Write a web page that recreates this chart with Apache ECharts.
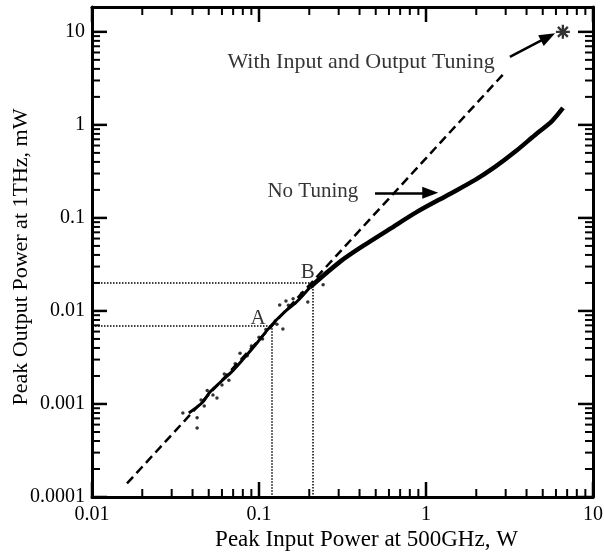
<!DOCTYPE html>
<html>
<head>
<meta charset="utf-8">
<script src="https://cdn.jsdelivr.net/npm/echarts@6.0.0/dist/echarts.min.js"></script>
<style>
  html, body { margin: 0; padding: 0; background: #fff; }
  #wrap { position: relative; width: 604px; height: 556px; }
  #chart, #ticks { position: absolute; left: 0; top: 0; width: 604px; height: 556px; }
  #ticks { pointer-events: none; }
</style>
</head>
<body>
<div id="wrap">
  <div id="chart"></div>
  <div id="ticks"></div>
</div>
<script>
// 刻度
var xMajor = [0.01, 0.1, 1, 10];
var xMajorLabels = ['0.01', '0.1', '1', '10'];
var xMinor = [0.02, 0.03, 0.04, 0.05, 0.06, 0.07, 0.08, 0.09,
              0.2, 0.3, 0.4, 0.5, 0.6, 0.7, 0.8, 0.9,
              2, 3, 4, 5, 6, 7, 8, 9];
var yMajor = [0.0001, 0.001, 0.01, 0.1, 1, 10];
var yMajorLabels = ['0.0001', '0.001', '0.01', '0.1', '1', '10'];
var yMinor = [0.0002, 0.0003, 0.0004, 0.0005, 0.0006, 0.0007, 0.0008, 0.0009,
              0.002, 0.003, 0.004, 0.005, 0.006, 0.007, 0.008, 0.009,
              0.02, 0.03, 0.04, 0.05, 0.06, 0.07, 0.08, 0.09,
              0.2, 0.3, 0.4, 0.5, 0.6, 0.7, 0.8, 0.9,
              2, 3, 4, 5, 6, 7, 8, 9];

// No Tuning 曲线（下段较细，上段较粗）
var noTuneLowX = [0.038, 0.0456, 0.051, 0.058, 0.070, 0.080, 0.097, 0.116, 0.14, 0.17, 0.202];
var noTuneLowY = [0.00080, 0.00103, 0.00135, 0.00168, 0.0023, 0.0030, 0.0045, 0.0067, 0.0095, 0.0128, 0.0180];
var noTuneHighX = [0.202, 0.305, 0.42, 0.608, 0.883, 1.39, 1.97, 2.59, 3.41, 4.50, 5.68, 6.61];
var noTuneHighY = [0.0180, 0.0337, 0.050, 0.0762, 0.116, 0.181, 0.256, 0.353, 0.513, 0.780, 1.10, 1.52];
// 散点
var dotX = [0.035, 0.0426, 0.0426, 0.045, 0.047, 0.049, 0.053, 0.056, 0.06, 0.062, 0.066, 0.072, 0.077,
            0.085, 0.09, 0.1, 0.105, 0.11, 0.125, 0.128, 0.133, 0.139, 0.145, 0.15, 0.16, 0.164,
            0.18, 0.196, 0.242];
var dotY = [0.0008, 0.00071, 0.00055, 0.0011, 0.00095, 0.0014, 0.00125, 0.00116, 0.0016, 0.0021, 0.0018, 0.0027, 0.0035,
            0.0033, 0.0042, 0.0052, 0.0050, 0.0063, 0.0078, 0.0072, 0.0116, 0.0064, 0.0128, 0.0115, 0.0135, 0.0121,
            0.0155, 0.0125, 0.0191];
// With Input and Output Tuning 虚线
var tunedX = [0.0162, 2.9];
var tunedY = [0.00014, 3.5];
var starX = [6.6];
var starY = [10];
// A、B 点
var pointA = [0.12, 0.007];
var pointB = [0.21, 0.02];

var xMin = 0.01, xMax = 10, yMin = 0.0001, yMax = 18.5;
var gridBox = { left: 92, right: 11, top: 7, bottom: 59, outerBoundsMode: 'none' };

function pairs(xs, ys) {
    return xs.map(function (x, i) { return [x, ys[i]]; });
}

var serif = 'Liberation Serif';

// 只给整十倍数标数字，其余（如轴端点）留空
function labelFor(values, labels) {
    return function (v) {
        for (var i = 0; i < values.length; i++) {
            if (Math.abs(Math.log10(values[i]) - Math.log10(v)) < 0.02) return labels[i];
        }
        return '';
    };
}

function makeAxis(position, min, max, labels, name) {
    var axis = {
        type: 'log',
        logBase: 10,
        position: position,
        min: min,
        max: max,
        axisLine: { show: true, onZero: false, lineStyle: { color: '#000', width: 3 } },
        axisTick: { show: false },
        minorTick: { show: false },
        splitLine: { show: false },
        axisLabel: labels ? {
            show: true,
            formatter: labelFor(labels.values, labels.text),
            fontFamily: serif,
            fontSize: 20,
            color: '#000',
            margin: position === 'bottom' ? 8 : 7
        } : { show: false }
    };
    if (name) {
        axis.name = name.text;
        axis.nameLocation = 'middle';
        axis.nameGap = name.gap;
        axis.nameMoveOverlap = false;
        axis.nameTextStyle = { fontFamily: serif, fontSize: name.size, color: '#000', padding: name.padding };
    }
    return axis;
}

// 主图
var chart = echarts.init(document.getElementById('chart'));

var guideStyle = { type: 'dotted', color: '#000', width: 1.5 };
var arrowStyle = { type: 'solid', color: '#000', width: 2.5 };

var option = {
    animation: false,
    backgroundColor: '#fff',
    grid: gridBox,
    xAxis: [
        makeAxis('bottom', xMin, xMax, { values: xMajor, text: xMajorLabels },
                 { text: 'Peak Input Power at 500GHz, W', gap: 31, size: 23, padding: [0, 0, 0, 48] }),
        makeAxis('top', xMin, xMax)
    ],
    yAxis: [
        makeAxis('left', yMin, yMax, { values: yMajor, text: yMajorLabels },
                 { text: 'Peak Output Power at 1THz, mW', gap: 60, size: 22, padding: [0, 10, 0, 0] }),
        makeAxis('right', yMin, yMax)
    ],
    series: [
        {
            name: 'With Input and Output Tuning',
            type: 'line',
            data: pairs(tunedX, tunedY),
            symbol: 'none',
            lineStyle: { color: '#000', width: 2.5, type: [9, 5] },
            z: 3,
            markLine: {
                silent: true,
                symbol: ['none', 'none'],
                label: { show: false },
                data: [
                    [{ coord: [xMin, pointA[1]], lineStyle: guideStyle }, { coord: pointA }],
                    [{ coord: pointA, lineStyle: guideStyle }, { coord: [pointA[0], yMin] }],
                    [{ coord: [xMin, pointB[1]], lineStyle: guideStyle }, { coord: pointB }],
                    [{ coord: pointB, lineStyle: guideStyle }, { coord: [pointB[0], yMin] }],
                    [{ coord: [3.18, 5.38], lineStyle: arrowStyle, symbol: 'none' },
                     { coord: [5.38, 8.83], symbol: 'triangle', symbolSize: [12, 16] }],
                    [{ coord: [0.495, 0.186], lineStyle: arrowStyle, symbol: 'none' },
                     { coord: [1.06, 0.186], symbol: 'triangle', symbolSize: [12, 16] }]
                ]
            }
        },
        {
            name: 'No Tuning low',
            type: 'line',
            data: pairs(noTuneLowX, noTuneLowY),
            symbol: 'none',
            smooth: 0.3,
            lineStyle: { color: '#000', width: 3 },
            z: 4
        },
        {
            name: 'No Tuning',
            type: 'line',
            data: pairs(noTuneHighX, noTuneHighY),
            symbol: 'none',
            smooth: 0.3,
            lineStyle: { color: '#000', width: 4.5 },
            z: 4
        },
        {
            name: 'No Tuning dots',
            type: 'scatter',
            data: pairs(dotX, dotY),
            symbolSize: 3.5,
            itemStyle: { color: '#000' },
            z: 4
        },
        {
            name: 'Tuned point',
            type: 'scatter',
            data: pairs(starX, starY),
            symbol: 'path://M-1,-6L1,-6L1,6L-1,6Z M-6,-1L6,-1L6,1L-6,1Z M-3.54,-4.95L4.95,3.54L3.54,4.95L-4.95,-3.54Z M3.54,-4.95L4.95,-3.54L-3.54,4.95L-4.95,3.54Z',
            symbolSize: 14,
            itemStyle: { color: '#000' },
            z: 5
        },
        {
            name: 'notes',
            type: 'scatter',
            symbolSize: 1,
            itemStyle: { color: 'rgba(0,0,0,0)' },
            label: { show: true, fontFamily: serif, fontSize: 21, color: '#000', distance: 0 },
            data: [
                { value: [0.0643, 4.75], label: { formatter: 'With Input and Output Tuning', position: 'right', fontSize: 22 } },
                { value: [0.1115, 0.19], label: { formatter: 'No Tuning', position: 'right' } },
                { value: [0.0986, 0.0084], label: { formatter: 'A', position: 'inside' } },
                { value: [0.196, 0.0262], label: { formatter: 'B', position: 'inside' } }
            ],
            z: 6
        }
    ]
};
chart.setOption(option);

// 刻度线：叠在主图上的第二个实例，同样的网格和对数轴，custom 系列画朝内的刻度
function plainAxis(position, min, max) {
    return {
        type: 'log', logBase: 10, position: position, min: min, max: max,
        axisLine: { show: false, onZero: false },
        axisTick: { show: false }, minorTick: { show: false }, splitLine: { show: false },
        axisLabel: { show: false }
    };
}

function tickSeries(side, values, len, width) {
    return {
        type: 'custom',
        data: values.map(function (v) {
            if (side === 'bottom') return [v, yMin];
            if (side === 'top') return [v, yMax];
            if (side === 'left') return [xMin, v];
            return [xMax, v];
        }),
        encode: { x: 0, y: 1 },
        renderItem: function (params, api) {
            var a = api.coord([api.value(0), api.value(1)]);
            var x2 = a[0], y2 = a[1];
            if (side === 'bottom') y2 = a[1] - len;
            else if (side === 'top') y2 = a[1] + len;
            else if (side === 'left') x2 = a[0] + len;
            else x2 = a[0] - len;
            return { type: 'line', shape: { x1: a[0], y1: a[1], x2: x2, y2: y2 },
                     style: { stroke: '#000', lineWidth: width } };
        }
    };
}

var tickChart = echarts.init(document.getElementById('ticks'));
tickChart.setOption({
    animation: false,
    grid: gridBox,
    xAxis: [plainAxis('bottom', xMin, xMax), plainAxis('top', xMin, xMax)],
    yAxis: [plainAxis('left', yMin, yMax), plainAxis('right', yMin, yMax)],
    series: [
        tickSeries('bottom', xMajor, 15, 2.5),
        tickSeries('bottom', xMinor, 8, 2),
        tickSeries('top', xMajor, 15, 2.5),
        tickSeries('top', xMinor, 8, 2),
        tickSeries('left', yMajor, 15, 2.5),
        tickSeries('left', yMinor, 8, 2),
        tickSeries('right', yMajor, 15, 2.5),
        tickSeries('right', yMinor, 8, 2)
    ]
});
</script>
</body>
</html>
